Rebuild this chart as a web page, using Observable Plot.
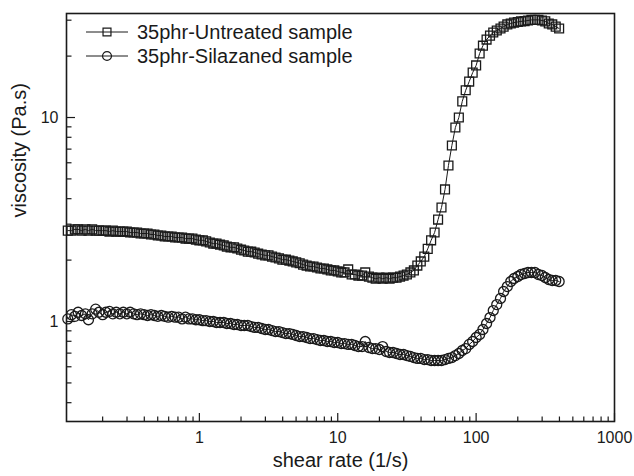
<!DOCTYPE html>
<html><head><meta charset="utf-8">
<script src="https://cdn.jsdelivr.net/npm/d3@7"></script>
<script src="https://cdn.jsdelivr.net/npm/@observablehq/plot@0.6"></script>
<style>body{margin:0;background:#fff} svg{display:block}</style>
</head><body><div id="chart"></div>
<script>
// shear rate (1/s), shared by both series
const shearRate = [
  0.112,0.119,0.126,0.133,0.141,0.150,0.158,0.168,0.178,0.188,
  0.200,0.211,0.224,0.237,0.251,0.266,0.282,0.299,0.316,0.335,
  0.355,0.376,0.398,0.422,0.447,0.473,0.501,0.531,0.562,0.596,
  0.631,0.668,0.708,0.750,0.794,0.841,0.891,0.944,
  1.00,1.06,1.12,1.19,1.26,1.33,1.41,1.50,1.58,1.68,
  1.78,1.88,2.00,2.11,2.24,2.37,2.51,2.66,2.82,2.99,
  3.16,3.35,3.55,3.76,3.98,4.22,4.47,4.73,5.01,5.31,
  5.62,5.96,6.31,6.68,7.08,7.50,7.94,8.41,8.91,9.44,
  10.0,10.6,11.2,11.9,12.6,13.3,14.1,15.0,15.8,16.8,
  17.8,18.8,20.0,21.1,22.4,23.7,25.1,26.6,28.2,29.9,
  31.6,33.5,35.5,37.6,39.8,42.2,44.7,47.3,50.1,53.1,
  56.2,59.6,63.1,66.8,70.8,75.0,79.4,84.1,89.1,94.4,
  100,106,112,119,126,133,141,150,158,168,
  178,188,200,211,224,237,251,266,282,299,
  316,335,355,376,398
];
// viscosity (Pa.s), 35phr-Untreated sample
const untreated = [
  2.79,2.79,2.83,2.83,2.79,2.83,2.79,2.83,2.79,2.79,
  2.79,2.79,2.76,2.79,2.76,2.76,2.76,2.76,2.73,2.73,
  2.73,2.70,2.70,2.70,2.67,2.67,2.64,2.64,2.61,2.61,
  2.61,2.58,2.58,2.58,2.55,2.55,2.55,2.52,2.50,2.50,
  2.47,2.44,2.41,2.41,2.38,2.36,2.33,2.31,2.31,2.28,
  2.25,2.23,2.20,2.20,2.18,2.15,2.13,2.11,2.11,2.08,
  2.06,2.04,2.01,2.01,1.99,1.97,1.95,1.93,1.90,1.88,
  1.86,1.86,1.84,1.82,1.82,1.80,1.78,1.78,1.76,1.74,
  1.74,1.80,1.70,1.70,1.68,1.68,1.74,1.66,1.64,1.62,
  1.64,1.62,1.64,1.62,1.64,1.64,1.66,1.68,1.70,1.74,
  1.78,1.88,1.97,2.08,2.27,2.50,2.73,3.16,3.62,4.44,
  5.82,7.29,8.93,10.0,12.0,13.6,15.0,16.6,18.0,20.6,
  22.5,24.1,25.2,26.1,26.7,27.3,27.9,28.6,28.9,29.2,
  29.4,29.6,29.7,29.9,30.1,30.1,30.1,29.9,29.6,28.9,
  28.6,27.9,27.3
];
// viscosity (Pa.s), 35phr-Silazaned sample
const silazaned = [
  1.03,1.08,1.06,1.11,1.07,1.09,1.02,1.09,1.15,1.11,
  1.08,1.11,1.12,1.09,1.11,1.09,1.11,1.09,1.11,1.09,
  1.08,1.09,1.08,1.07,1.08,1.07,1.06,1.07,1.06,1.05,
  1.06,1.05,1.05,1.03,1.05,1.03,1.03,1.02,1.02,1.01,
  1.01,1.00,1.00,0.989,0.989,0.989,0.978,0.978,0.967,0.967,
  0.956,0.956,0.956,0.945,0.935,0.935,0.924,0.914,0.914,0.903,
  0.893,0.893,0.883,0.873,0.873,0.864,0.854,0.844,0.844,0.835,
  0.825,0.825,0.816,0.807,0.807,0.798,0.798,0.789,0.789,0.780,
  0.780,0.772,0.772,0.763,0.754,0.754,0.798,0.746,0.737,0.737,
  0.729,0.754,0.713,0.705,0.705,0.697,0.689,0.689,0.681,0.674,
  0.666,0.659,0.659,0.651,0.651,0.644,0.644,0.644,0.644,0.651,
  0.659,0.666,0.681,0.697,0.721,0.737,0.772,0.798,0.835,0.864,
  0.914,0.978,1.046,1.132,1.211,1.297,1.403,1.484,1.571,1.625,
  1.662,1.700,1.719,1.739,1.739,1.739,1.700,1.681,1.643,1.607,
  1.589,1.589,1.571
];
const seriesNames = ["35phr-Untreated sample", "35phr-Silazaned sample"];
const xMajorTicks = [1, 10, 100, 1000];
const xMinorTicks = [0.2,0.3,0.4,0.5,0.6,0.7,0.8,0.9, 2,3,4,5,6,7,8,9, 20,30,40,50,60,70,80,90, 200,300,400,500,600,700,800,900];
const yMajorTicks = [1, 10];
const yMinorTicks = [0.4,0.5,0.6,0.7,0.8,0.9, 2,3,4,5,6,7,8,9, 20,30];
const xLabel = "shear rate (1/s)";
const yLabel = "viscosity (Pa.s)";

const toPoints = vals => vals.map((v, i) => ({x: shearRate[i], y: v}));
const dUnt = toPoints(untreated);
const dSil = toPoints(silazaned);
const ink = "#1a1a1a";
const font = "'Liberation Sans', Arial, Helvetica, sans-serif";
const rSq = 5.0, rCi = 5.0;

const chart = Plot.plot({
  width: 634, height: 476,
  marginLeft: 66, marginRight: 20, marginTop: 13, marginBottom: 55,
  style: {fontFamily: font, fontSize: "16px", color: ink, background: "white"},
  x: {type: "log", domain: [0.1096, 1000]},
  y: {type: "log", domain: [0.3235, 32.35]},
  marks: [
    Plot.line(dUnt, {x: "x", y: "y", stroke: ink, strokeWidth: 1}),
    Plot.dot(dUnt, {x: "x", y: "y", symbol: "square", r: rSq, stroke: ink, strokeWidth: 1.3, fill: "none"}),
    Plot.line(dSil, {x: "x", y: "y", stroke: ink, strokeWidth: 1}),
    Plot.dot(dSil, {x: "x", y: "y", symbol: "circle", r: rCi, stroke: ink, strokeWidth: 1.3, fill: "none"}),
    Plot.axisX(xMajorTicks, {tickSize: -8, fill: "none", label: null, stroke: ink, strokeWidth: 1.2}),
    Plot.axisX(xMinorTicks, {tickSize: -4.5, fill: "none", label: null, stroke: ink, strokeWidth: 1.2}),
    Plot.axisX(xMajorTicks, {tickSize: 0, tickPadding: 10, stroke: "none", fill: ink, label: null, tickFormat: d => String(d)}),
    Plot.axisY(yMajorTicks, {tickSize: -9, fill: "none", label: null, stroke: ink, strokeWidth: 1.2}),
    Plot.axisY(yMinorTicks, {tickSize: -5.5, fill: "none", label: null, stroke: ink, strokeWidth: 1.2}),
    Plot.axisY(yMajorTicks, {tickSize: 0, tickPadding: 8, stroke: "none", fill: ink, label: null, tickFormat: d => String(d)}),
    Plot.frame({stroke: ink, strokeWidth: 1.6}),
    Plot.text([yLabel], {text: d => d, frameAnchor: "left", dx: -47, rotate: -90, fontSize: 20, fill: ink}),
    Plot.text([xLabel], {text: d => d, frameAnchor: "bottom", dy: 45, fontSize: 20, fill: ink})
  ]
});

// legend inside the frame, upper left
const svg = d3.select(chart);
const legendItems = [
  {name: seriesNames[0], symbol: d3.symbolSquare, r: rSq},
  {name: seriesNames[1], symbol: d3.symbolCircle, r: rCi}
];
const lg = svg.append("g").attr("font-family", font).attr("font-size", 20)
  .attr("fill", ink).attr("text-anchor", "start");
legendItems.forEach((it, i) => {
  const y = 32 + i * 24;
  lg.append("line").attr("x1", 86).attr("x2", 128).attr("y1", y).attr("y2", y)
    .attr("stroke", ink).attr("stroke-width", 1);
  lg.append("path").attr("d", d3.symbol(it.symbol, Math.PI * it.r * it.r * 0.8)())
    .attr("transform", `translate(107,${y})`).attr("fill", "none")
    .attr("stroke", ink).attr("stroke-width", 1.2);
  lg.append("text").attr("x", 137).attr("y", y).attr("dy", "0.35em")
    .attr("text-anchor", "start").text(it.name);
});
document.getElementById("chart").appendChild(chart);
</script>
</body></html>
